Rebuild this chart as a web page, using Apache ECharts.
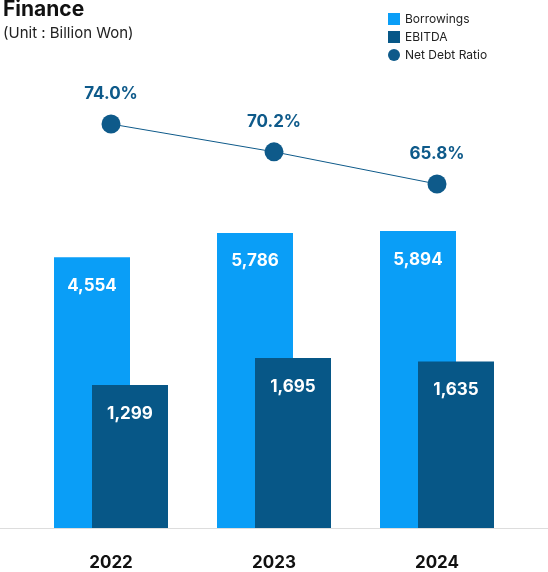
<!DOCTYPE html><html><head><meta charset="utf-8"><script src="https://cdn.jsdelivr.net/npm/echarts@6/dist/echarts.min.js"></script>
<style>html,body{margin:0;padding:0;background:#fff}#c{width:548px;height:572px}</style></head><body><div id="c"></div><script>
const categories=['2022','2023','2024'];
const borrowings=[4554,5786,5894];
const ebitda=[1299,1695,1635];
const netDebtRatio=[74.0,70.2,65.8];
const chart=echarts.init(document.getElementById('c'));
const barLabel={show:true,position:'insideTop',distance:20,color:'#fff',fontSize:17,fontWeight:'bold',fontFamily:'Inter',formatter:p=>p.value.toLocaleString('en-US')};
chart.setOption({
 animation:false,
 textStyle:{fontFamily:'Inter'},
 title:{text:'Finance',subtext:'(Unit : Billion Won)',left:-2,top:-6,itemGap:6,
  textStyle:{fontSize:21,fontWeight:'bold',color:'#111',fontFamily:'Inter'},
  subtextStyle:{fontSize:15,color:'#222',fontFamily:'Inter'}},
 legend:{orient:'vertical',left:383,top:8,itemGap:6,itemWidth:12,itemHeight:12,
  textStyle:{fontSize:12,color:'#222',fontFamily:'Inter'},
  data:[{name:'Borrowings',icon:'rect'},{name:'EBITDA',icon:'rect'},{name:'Net Debt Ratio',icon:'circle'}]},
 grid:{left:29.5,right:29.5,top:60,bottom:44},
 xAxis:{type:'category',data:categories,axisTick:{show:false},axisLine:{show:false},
  axisLabel:{fontSize:17,fontWeight:'bold',color:'#111',margin:26,fontFamily:'Inter'}},
 yAxis:[{type:'log',min:319,max:31600,show:false,splitLine:{show:false}},
  {type:'value',min:18.8,max:82.75,show:false,splitLine:{show:false}}],
 graphic:[{type:'line',shape:{x1:0,y1:528.5,x2:548,y2:528.5},style:{stroke:'#ddd',lineWidth:1},z:0}],
 series:[
  {name:'Borrowings',type:'bar',data:borrowings,barWidth:76,barGap:'-50%',itemStyle:{color:'#0a9ef7'},label:barLabel},
  {name:'EBITDA',type:'bar',data:ebitda,barWidth:76,itemStyle:{color:'#075787'},label:barLabel},
  {name:'Net Debt Ratio',type:'line',yAxisIndex:1,data:netDebtRatio,symbol:'circle',symbolSize:19,
   lineStyle:{color:'#0e5a8a',width:1},itemStyle:{color:'#0e5a8a'},z:5,
   label:{show:true,position:'top',distance:12,color:'#0e5a8a',fontSize:17,fontWeight:'bold',fontFamily:'Inter',formatter:p=>p.value.toFixed(1)+'%'}}
 ]
});
</script></body></html>
